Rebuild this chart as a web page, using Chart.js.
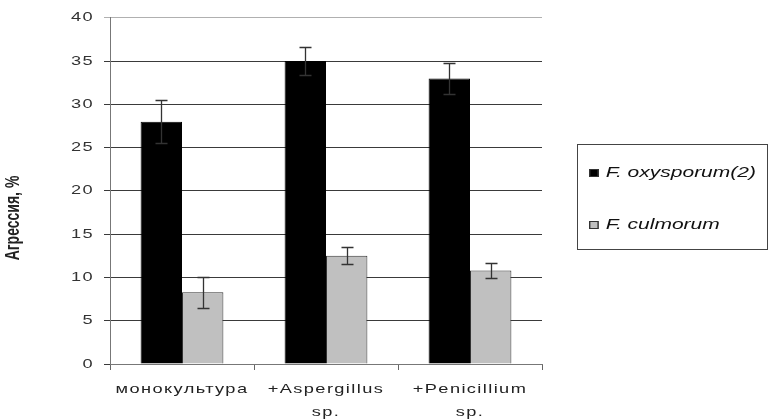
<!DOCTYPE html>
<html><head><meta charset="utf-8">
<script src="https://cdn.jsdelivr.net/npm/chart.js@4.4.1/dist/chart.umd.min.js"></script>
<style>
html,body{margin:0;padding:0;background:#fff;overflow:hidden;}
#wrap{position:relative;width:770px;height:419px;overflow:hidden;}
#legend{position:absolute;left:577px;top:144px;width:191px;height:106px;border:1px solid #444;box-sizing:border-box;font-family:"Liberation Sans",Arial,sans-serif;font-style:italic;font-size:15px;color:#111;}
.item{position:absolute;left:11px;height:16px;transform:scaleX(1.4);transform-origin:0 50%;white-space:nowrap;}
.sw{display:inline-block;width:7px;height:8px;margin-right:5px;border:1px solid #333;box-sizing:border-box;vertical-align:0px;}
</style></head>
<body><div id="wrap"><canvas id="c" width="770" height="419"></canvas>
<div id="legend"></div></div>
<script>
const categories = [["монокультура"], ["+Aspergillus", "sp."], ["+Penicillium", "sp."]];
const seriesNames = ["F. oxysporum(2)", "F. culmorum"];
const oxysporum = [28, 35, 33];
const oxysporumErr = [2.5, 1.6, 1.8];
const culmorum = [8.3, 12.5, 10.8];
const culmorumErr = [1.8, 1.0, 0.85];
const yTicks = [0, 5, 10, 15, 20, 25, 30, 35, 40];
const yTitle = "Агрессия, %";

const SX = 1.4;
const errs = [oxysporumErr, culmorumErr];
const FONT = '"Liberation Sans", Arial, sans-serif';

const stretchPlugin = {
  id: 'stretch',
  beforeInit(chart) {
    const ctx = chart.ctx;
    ctx.fillText = function (t, x, y, mw) {
      this.save();
      this.translate(x, y);
      this.scale(SX, 1);
      try { this.letterSpacing = '1px'; } catch (e) {}
      CanvasRenderingContext2D.prototype.fillText.call(this, t, 0, 0);
      this.restore();
    };
  },
  afterDraw(chart) {
    const ctx = chart.ctx;
    ctx.save();
    ctx.translate(14, 218);
    ctx.rotate(-Math.PI / 2);
    ctx.scale(1, SX);
    ctx.font = 'bold 14px ' + FONT;
    ctx.fillStyle = '#222';
    ctx.textAlign = 'center';
    ctx.textBaseline = 'middle';
    CanvasRenderingContext2D.prototype.fillText.call(ctx, yTitle, 0, 0);
    ctx.restore();
  }
};

const errPlugin = {
  id: 'err',
  afterDatasetsDraw(chart) {
    const ctx = chart.ctx, y = chart.scales.y;
    ctx.save();
    chart.data.datasets.forEach((ds, di) => {
      const meta = chart.getDatasetMeta(di);
      meta.data.forEach((bar, i) => {
        const v = ds.data[i], e = errs[di][i];
        const yt = Math.round(y.getPixelForValue(v + e)) + 0.5, yb = Math.round(y.getPixelForValue(v - e)) + 0.5;
        const x = Math.round(bar.x) + 0.5;
        ctx.strokeStyle = '#333'; ctx.lineWidth = 1.3;
        ctx.beginPath();
        ctx.moveTo(x, yt); ctx.lineTo(x, yb);
        ctx.moveTo(x - 6, yt); ctx.lineTo(x + 6, yt);
        ctx.moveTo(x - 6, yb); ctx.lineTo(x + 6, yb);
        ctx.stroke();
      });
    });
    ctx.restore();
  }
};

new Chart(document.getElementById('c'), {
  type: 'bar',
  data: {
    labels: categories,
    datasets: [
      {label: seriesNames[0], data: oxysporum, backgroundColor: '#000', borderColor: '#000', borderWidth: 1},
      {label: seriesNames[1], data: culmorum, backgroundColor: '#c0c0c0', borderColor: '#333', borderWidth: 1}
    ]
  },
  options: {
    responsive: false, animation: false,
    layout: {padding: {top: 16, right: 228, left: 0, bottom: 0}},
    categoryPercentage: 0.575, barPercentage: 1.0,
    plugins: {legend: {display: false}, tooltip: {enabled: false}},
    scales: {
      x: {
        offset: true,
        grid: {offset: true, drawOnChartArea: false, tickLength: 6, color: '#666'},
        border: {color: '#777'},
        ticks: {color: '#222', font: {family: FONT, size: 13, lineHeight: 1.75}, padding: 8, maxRotation: 0},
        afterFit(s) { s.height = 55; }
      },
      y: {
        min: 0, max: 40,
        afterBuildTicks(s) { s.ticks = yTicks.map(v => ({value: v})); },
        grid: {color: c => c.tick && c.tick.value === 40 ? '#b0b0b0' : '#3a3a3a', tickLength: 6, lineWidth: 1},
        border: {color: '#777'},
        ticks: {color: '#333', font: {family: FONT, size: 13}, padding: 10},
        afterFit(s) { s.width = 110; }
      }
    }
  },
  plugins: [stretchPlugin, errPlugin]
});

const lg = document.getElementById('legend');
const colors = ['#000', '#c0c0c0'];
const tops = [18, 70];
seriesNames.forEach((n, i) => {
  const d = document.createElement('div');
  d.className = 'item'; d.style.top = tops[i] + 'px';
  d.innerHTML = '<span class="sw" style="background:' + colors[i] + '"></span><span></span>';
  d.lastChild.textContent = n;
  lg.appendChild(d);
});
</script></body></html>
